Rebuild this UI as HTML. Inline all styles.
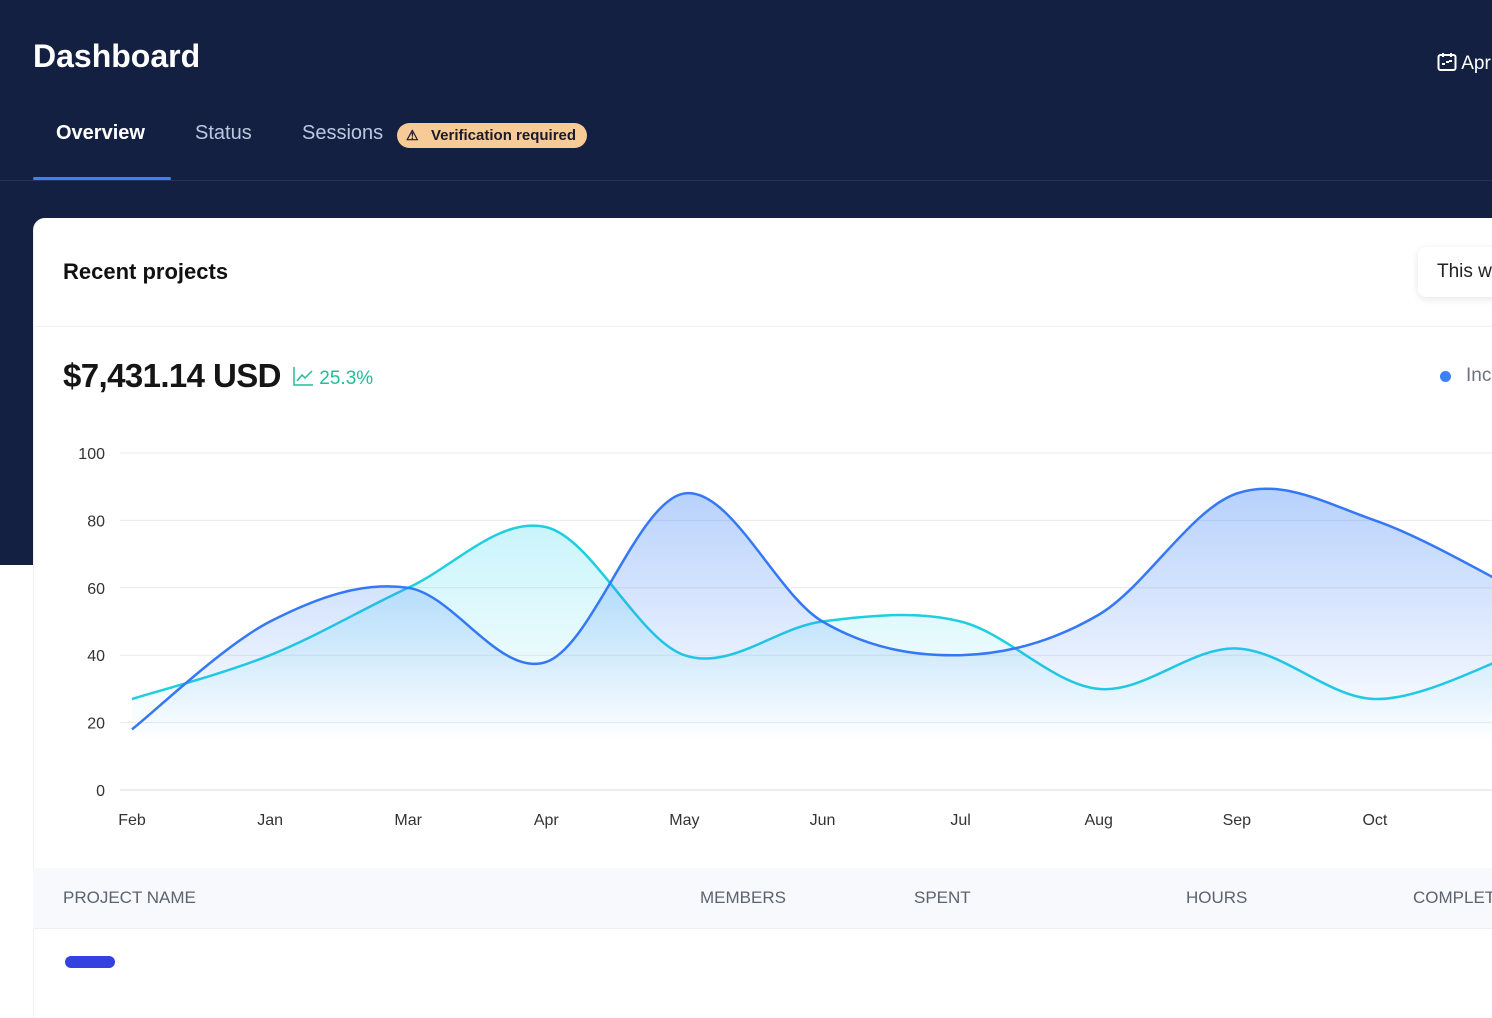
<!DOCTYPE html>
<html><head><meta charset="utf-8"><style>
*{margin:0;padding:0;box-sizing:border-box}
body{width:1492px;height:960px;overflow:hidden;background:#fff;font-family:"Liberation Sans",sans-serif;position:relative}
.hdr{position:absolute;left:0;top:0;width:1492px;height:565px;background:#142042}
.t{position:absolute;white-space:nowrap}
.card{position:absolute;left:33px;top:218px;width:1500px;height:800px;background:#fff;border-radius:12px 0 0 0;border-left:1px solid #eef0f5}
</style></head><body>
<div class="hdr"></div>
<div class="t" style="left:33px;top:38px;font-size:32px;font-weight:bold;color:#fff">Dashboard</div>
<div class="t" style="left:1437px;top:52px;font-size:19px;color:#fff"><svg width="20" height="20" viewBox="0 0 20 20" style="vertical-align:-3px"><rect x="1.5" y="3" width="17" height="15" rx="2" fill="none" stroke="#fff" stroke-width="2"/><line x1="6" y1="1" x2="6" y2="5" stroke="#fff" stroke-width="2"/><line x1="14" y1="1" x2="14" y2="5" stroke="#fff" stroke-width="2"/><rect x="5" y="11" width="3" height="2" fill="#fff"/><rect x="9" y="9" width="3" height="2" fill="#fff"/><rect x="12" y="8" width="3" height="2" fill="#fff"/></svg> Apr</div>
<div class="t" style="left:56px;top:122px;font-size:20px;font-weight:bold;color:#fff">Overview</div>
<div class="t" style="left:195px;top:122px;font-size:20px;color:#bcc8e0">Status</div>
<div class="t" style="left:302px;top:122px;font-size:20px;color:#bcc8e0">Sessions</div>
<div class="t" style="left:397px;top:123px;width:190px;height:25px;border-radius:13px;background:#f7cb96;font-size:15px;font-weight:bold;color:#1a1a2a;line-height:25px;padding-left:34px">Verification required<span style="position:absolute;left:9px;top:0;font-size:14px">&#9888;</span></div>
<div style="position:absolute;left:0;top:180px;width:1492px;height:1px;background:#263457"></div>
<div style="position:absolute;left:33px;top:177px;width:138px;height:3px;background:#3b82f6;border-radius:2px"></div>
<div class="card"></div>
<div class="t" style="left:63px;top:259px;font-size:22px;font-weight:bold;color:#111">Recent projects</div>
<div style="position:absolute;left:1418px;top:247px;width:100px;height:50px;border-radius:8px;background:#fff;box-shadow:0 2px 8px rgba(0,0,0,.1)"></div>
<div class="t" style="left:1437px;top:261px;font-size:19px;color:#222">This w</div>
<div style="position:absolute;left:33px;top:326px;width:1459px;height:1px;background:#eef0f4"></div>
<div class="t" style="left:63px;top:357px;font-size:33px;font-weight:bold;color:#151515;letter-spacing:-0.6px">$7,431.14 USD</div>
<div class="t" style="left:293px;top:366px;font-size:19px;color:#1fbf9a"><svg width="21" height="20" viewBox="0 0 21 20" style="vertical-align:-2px"><path d="M1 1V19H20" fill="none" stroke="#1fbf9a" stroke-width="1.5"/><path d="M4 15L9 9L12 12L19 5" fill="none" stroke="#1fbf9a" stroke-width="1.5"/></svg> 25.3%</div>
<div style="position:absolute;left:1440px;top:371px;width:11px;height:11px;border-radius:50%;background:#3b82f6"></div>
<div class="t" style="left:1466px;top:365px;font-size:19px;color:#6b7280">Inc</div>
<svg id="ch" style="position:absolute;left:0;top:0" width="1492" height="960">
<defs>
<linearGradient id="gb" gradientUnits="userSpaceOnUse" x1="0" y1="480" x2="0" y2="740"><stop offset="0" stop-color="#3b82f6" stop-opacity=".38"/><stop offset="1" stop-color="#3b82f6" stop-opacity="0"/></linearGradient>
<linearGradient id="gc" gradientUnits="userSpaceOnUse" x1="0" y1="520" x2="0" y2="740"><stop offset="0" stop-color="#22d3ee" stop-opacity=".25"/><stop offset="1" stop-color="#22d3ee" stop-opacity="0"/></linearGradient>
</defs>
<g id="grid" font-family="Liberation Sans" font-size="16" fill="#333"></g>
</svg>
<div style="position:absolute;left:33px;top:868px;width:1459px;height:61px;background:#f8f9fc;border-bottom:1px solid #eceef3"></div>
<div class="t" style="left:63px;top:888px;font-size:17px;color:#5b6270">PROJECT NAME</div>
<div class="t" style="left:700px;top:888px;font-size:17px;color:#5b6270">MEMBERS</div>
<div class="t" style="left:914px;top:888px;font-size:17px;color:#5b6270">SPENT</div>
<div class="t" style="left:1186px;top:888px;font-size:17px;color:#5b6270">HOURS</div>
<div class="t" style="left:1413px;top:888px;font-size:17px;color:#5b6270">COMPLET</div>
<div style="position:absolute;left:65px;top:956px;width:50px;height:12px;border-radius:6px;background:#3341e0"></div>
<script>
var ns="http://www.w3.org/2000/svg",svg=document.getElementById('ch'),g=document.getElementById('grid');
function Y(v){return 790-v*3.37}
var s='';
for(var i=0;i<=5;i++){var v=i*20,y=Y(v);s+='<line x1="120" x2="1492" y1="'+y+'" y2="'+y+'" stroke="'+(i==0?'#d8dbe0':'#e8eaee')+'"/>';s+='<text x="105" y="'+(y+6)+'" text-anchor="end">'+v+'</text>';}
var m=['Feb','Jan','Mar','Apr','May','Jun','Jul','Aug','Sep','Oct'];
for(var i=0;i<m.length;i++){s+='<text x="'+(132+i*138.1)+'" y="825" text-anchor="middle">'+m[i]+'</text>';}
g.innerHTML=s;
var X=function(i){return 132+i*138.1};
var blue=[18,50,60,38,88,50,40,52,88,80,60];
var cyan=[27,40,60,78,40,50,50,30,42,27,40];
function path(d){var p=d.map(function(v,i){return[X(i),Y(v)]});var str='M'+p[0][0]+','+p[0][1];
for(var i=0;i<p.length-1;i++){var p0=p[i-1]||p[i],p1=p[i],p2=p[i+1],p3=p[i+2]||p2;
var c1x=p1[0]+(p2[0]-p0[0])/6,c1y=p1[1]+(p2[1]-p0[1])/6,c2x=p2[0]-(p3[0]-p1[0])/6,c2y=p2[1]-(p3[1]-p1[1])/6;
str+=' C'+c1x+','+c1y+' '+c2x+','+c2y+' '+p2[0]+','+p2[1];}return str;}
function add(d,col,gr){var pb=path(d);var a=document.createElementNS(ns,'path');a.setAttribute('d',pb+' L'+X(d.length-1)+',790 L132,790Z');a.setAttribute('fill','url(#'+gr+')');svg.appendChild(a);
var l=document.createElementNS(ns,'path');l.setAttribute('d',pb);l.setAttribute('fill','none');l.setAttribute('stroke',col);l.setAttribute('stroke-width','2.5');svg.appendChild(l);}
add(cyan,'#1ecfe0','gc');add(blue,'#3478f6','gb');
</script>
</body></html>
